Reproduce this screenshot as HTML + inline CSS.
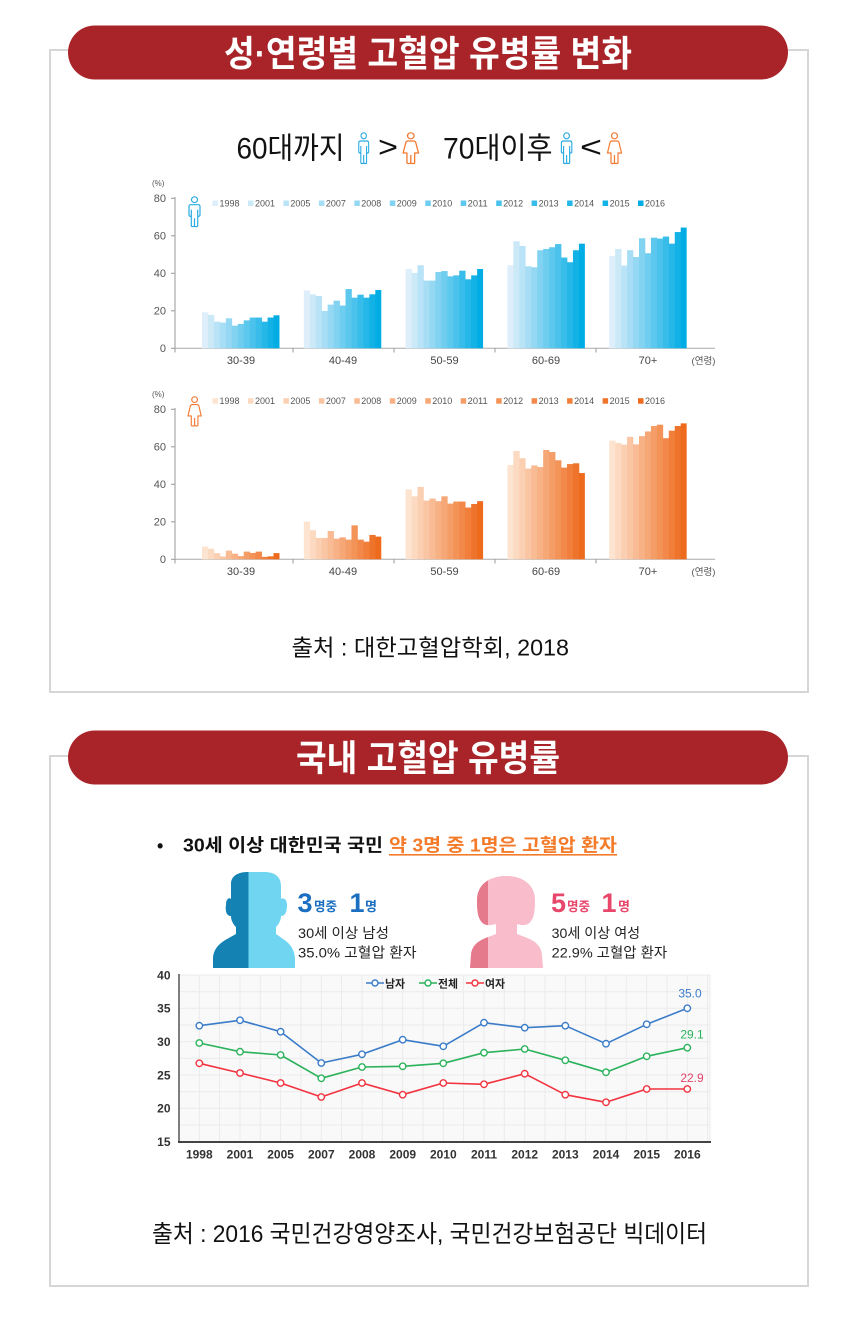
<!DOCTYPE html>
<html><head><meta charset="utf-8">
<style>
html,body{margin:0;padding:0;background:#fff;}
svg{display:block;font-family:"Liberation Sans","Noto Sans CJK KR",sans-serif;}
.m0{fill:#deeefa}.m1{fill:#cce9f8}.m2{fill:#b9e3f6}.m3{fill:#a7def5}.m4{fill:#94d8f3}.m5{fill:#82d3f1}.m6{fill:#6fcdef}.m7{fill:#5dc8ed}.m8{fill:#4ac2eb}.m9{fill:#38bdea}.m10{fill:#25b7e8}.m11{fill:#13b2e6}.m12{fill:#00ace4}
.f0{fill:#fde4d0}.f1{fill:#fcdac1}.f2{fill:#fbd0b2}.f3{fill:#f9c5a3}.f4{fill:#f8bb94}.f5{fill:#f7b185}.f6{fill:#f6a776}.f7{fill:#f49d67}.f8{fill:#f39358}.f9{fill:#f28849}.f10{fill:#f17e3a}.f11{fill:#ef742b}.f12{fill:#ee6a1c}
.tk{font-size:11px;fill:#555;}
.lg{font-size:9px;fill:#555;}
.cat{font-size:11px;fill:#444;}
.ly{font-size:12px;font-weight:700;fill:#333;}
</style></head>
<body>
<svg width="860" height="1340" viewBox="0 0 860 1340" xmlns="http://www.w3.org/2000/svg">
<defs>
  <g id="icM" fill="none" stroke-width="1.2" stroke-linejoin="round">
    <circle cx="8" cy="3.8" r="3"/>
    <path d="M4.5,9 H11.5 Q13.5,9 13.5,11 V19.5 Q13.5,21 12,21 H11.2 V30.5 Q11.2,31.5 10.2,31.5 H9 Q8,31.5 8,30.5 Q8,31.5 7,31.5 H5.8 Q4.8,31.5 4.8,30.5 V21 H4 Q2.5,21 2.5,19.5 V11 Q2.5,9 4.5,9 Z M4.8,14 V21 M11.2,14 V21 M8,23 V30.5"/>
  </g>
  <g id="icF" fill="none" stroke-width="1.2" stroke-linejoin="round">
    <circle cx="8" cy="3.8" r="3"/>
    <path d="M5.5,9 H10.5 Q12,9 12.5,10.5 L15,21 H11.5 V30.5 Q11.5,31.5 10.5,31.5 H9 Q8,31.5 8,30.5 Q8,31.5 7,31.5 H5.5 Q4.5,31.5 4.5,30.5 V21 H1 L3.5,10.5 Q4,9 5.5,9 Z M8,23 V30.5"/>
  </g>
  <clipPath id="cpM"><rect x="200" y="860" width="48.5" height="120"/></clipPath>
  <clipPath id="cpF"><rect x="460" y="860" width="28" height="120"/></clipPath>
</defs>

<!-- ===== Section 1 ===== -->
<rect x="50" y="50" width="758" height="642" fill="#fff" stroke="#d6d6d6" stroke-width="2"/>
<rect x="68" y="25.5" width="720" height="54" rx="27" fill="#a92428"/>
<text x="428" y="66" text-anchor="middle" font-size="36" font-weight="700" fill="#fff" textLength="408" lengthAdjust="spacingAndGlyphs">성·연령별 고혈압 유병률 변화</text>

<!-- subtitle -->
<text x="236.5" y="158.5" font-size="30" fill="#111" textLength="108" lengthAdjust="spacingAndGlyphs">60대까지</text>
<use href="#icM" transform="translate(356.5,132) scale(0.9,1)" stroke="#29abe2"/>
<text x="378" y="157" font-size="30" fill="#111" textLength="20" lengthAdjust="spacingAndGlyphs">&gt;</text>
<use href="#icF" transform="translate(402,132) scale(1.1,1)" stroke="#f47a30"/>
<text x="443" y="158.5" font-size="30" fill="#111" textLength="109.5" lengthAdjust="spacingAndGlyphs">70대이후</text>
<use href="#icM" transform="translate(559,132) scale(0.95,1)" stroke="#29abe2"/>
<text x="580" y="157" font-size="30" fill="#111" textLength="22" lengthAdjust="spacingAndGlyphs">&lt;</text>
<use href="#icF" transform="translate(606.5,132) scale(1,1)" stroke="#f47a30"/>

<!-- ===== Male bar chart ===== -->
<text x="152" y="186" font-size="8" fill="#555">(%)</text>
<line x1="175" y1="197" x2="175" y2="348.3" stroke="#999" stroke-width="1"/>
<line x1="175" y1="348.3" x2="715" y2="348.3" stroke="#aaa" stroke-width="1"/>
<g stroke="#999" stroke-width="1">
<line x1="171" y1="198.3" x2="175" y2="198.3"/><line x1="171" y1="235.8" x2="175" y2="235.8"/><line x1="171" y1="273.3" x2="175" y2="273.3"/><line x1="171" y1="310.8" x2="175" y2="310.8"/><line x1="171" y1="348.3" x2="175" y2="348.3"/>
<line x1="175" y1="348.3" x2="175" y2="352.5"/><line x1="293" y1="348.3" x2="293" y2="352.5"/><line x1="394" y1="348.3" x2="394" y2="352.5"/><line x1="495" y1="348.3" x2="495" y2="352.5"/><line x1="596" y1="348.3" x2="596" y2="352.5"/>
</g>
<g text-anchor="end">
<text class="tk" x="166" y="202.2">80</text><text class="tk" x="166" y="239.7">60</text><text class="tk" x="166" y="277.2">40</text><text class="tk" x="166" y="314.7">20</text><text class="tk" x="166" y="352.2">0</text>
</g>
<g text-anchor="middle">
<text class="cat" x="241" y="364">30-39</text><text class="cat" x="343" y="364">40-49</text><text class="cat" x="444.5" y="364">50-59</text><text class="cat" x="546" y="364">60-69</text><text class="cat" x="648" y="364">70+</text>
</g>
<text x="691.5" y="364" font-size="9.5" fill="#555" textLength="24" lengthAdjust="spacingAndGlyphs">(연령)</text>
<use href="#icM" transform="translate(186.5,196) scale(1,0.97)" stroke="#29abe2"/>

<!-- male legend -->
<g>
<rect class="m0" x="212.5" y="200.5" width="5.5" height="5.5"/><text class="lg" x="219.5" y="206.5" textLength="20" lengthAdjust="spacingAndGlyphs">1998</text>
<rect class="m1" x="248" y="200.5" width="5.5" height="5.5"/><text class="lg" x="255" y="206.5" textLength="20" lengthAdjust="spacingAndGlyphs">2001</text>
<rect class="m2" x="283.4" y="200.5" width="5.5" height="5.5"/><text class="lg" x="290.4" y="206.5" textLength="20" lengthAdjust="spacingAndGlyphs">2005</text>
<rect class="m3" x="318.9" y="200.5" width="5.5" height="5.5"/><text class="lg" x="325.9" y="206.5" textLength="20" lengthAdjust="spacingAndGlyphs">2007</text>
<rect class="m4" x="354.3" y="200.5" width="5.5" height="5.5"/><text class="lg" x="361.3" y="206.5" textLength="20" lengthAdjust="spacingAndGlyphs">2008</text>
<rect class="m5" x="389.8" y="200.5" width="5.5" height="5.5"/><text class="lg" x="396.8" y="206.5" textLength="20" lengthAdjust="spacingAndGlyphs">2009</text>
<rect class="m6" x="425.3" y="200.5" width="5.5" height="5.5"/><text class="lg" x="432.3" y="206.5" textLength="20" lengthAdjust="spacingAndGlyphs">2010</text>
<rect class="m7" x="460.7" y="200.5" width="5.5" height="5.5"/><text class="lg" x="467.7" y="206.5" textLength="20" lengthAdjust="spacingAndGlyphs">2011</text>
<rect class="m8" x="496.2" y="200.5" width="5.5" height="5.5"/><text class="lg" x="503.2" y="206.5" textLength="20" lengthAdjust="spacingAndGlyphs">2012</text>
<rect class="m9" x="531.6" y="200.5" width="5.5" height="5.5"/><text class="lg" x="538.6" y="206.5" textLength="20" lengthAdjust="spacingAndGlyphs">2013</text>
<rect class="m10" x="567.1" y="200.5" width="5.5" height="5.5"/><text class="lg" x="574.1" y="206.5" textLength="20" lengthAdjust="spacingAndGlyphs">2014</text>
<rect class="m11" x="602.6" y="200.5" width="5.5" height="5.5"/><text class="lg" x="609.6" y="206.5" textLength="20" lengthAdjust="spacingAndGlyphs">2015</text>
<rect class="m12" x="638" y="200.5" width="5.5" height="5.5"/><text class="lg" x="645" y="206.5" textLength="20" lengthAdjust="spacingAndGlyphs">2016</text>
</g>

<!-- male bars -->
<g transform="translate(202,348.3) scale(1,-1.875)">
<rect class="m0" x="0" width="6.3" height="19.2"/><rect class="m1" x="5.96" width="6.3" height="17.8"/><rect class="m2" x="11.92" width="6.3" height="14.2"/><rect class="m3" x="17.88" width="6.3" height="13.7"/><rect class="m4" x="23.84" width="6.3" height="16"/><rect class="m5" x="29.8" width="6.3" height="12.1"/><rect class="m6" x="35.76" width="6.3" height="13"/><rect class="m7" x="41.72" width="6.3" height="14.9"/><rect class="m8" x="47.68" width="6.3" height="16.4"/><rect class="m9" x="53.64" width="6.3" height="16.4"/><rect class="m10" x="59.6" width="6.3" height="14.2"/><rect class="m11" x="65.56" width="6.3" height="16.4"/><rect class="m12" x="71.52" width="5.96" height="17.6"/>
</g>
<g transform="translate(303.8,348.3) scale(1,-1.875)">
<rect class="m0" x="0" width="6.3" height="30.8"/><rect class="m1" x="5.96" width="6.3" height="28.8"/><rect class="m2" x="11.92" width="6.3" height="27.9"/><rect class="m3" x="17.88" width="6.3" height="19.9"/><rect class="m4" x="23.84" width="6.3" height="23.3"/><rect class="m5" x="29.8" width="6.3" height="25.4"/><rect class="m6" x="35.76" width="6.3" height="22.8"/><rect class="m7" x="41.72" width="6.3" height="31.6"/><rect class="m8" x="47.68" width="6.3" height="27"/><rect class="m9" x="53.64" width="6.3" height="28.6"/><rect class="m10" x="59.6" width="6.3" height="27"/><rect class="m11" x="65.56" width="6.3" height="28.8"/><rect class="m12" x="71.52" width="5.96" height="31.1"/>
</g>
<g transform="translate(405.6,348.3) scale(1,-1.875)">
<rect class="m0" x="0" width="6.3" height="42.3"/><rect class="m1" x="5.96" width="6.3" height="40.2"/><rect class="m2" x="11.92" width="6.3" height="44.3"/><rect class="m3" x="17.88" width="6.3" height="36.1"/><rect class="m4" x="23.84" width="6.3" height="36.1"/><rect class="m5" x="29.8" width="6.3" height="40.7"/><rect class="m6" x="35.76" width="6.3" height="41.2"/><rect class="m7" x="41.72" width="6.3" height="38.4"/><rect class="m8" x="47.68" width="6.3" height="38.9"/><rect class="m9" x="53.64" width="6.3" height="41.4"/><rect class="m10" x="59.6" width="6.3" height="36.8"/><rect class="m11" x="65.56" width="6.3" height="38.9"/><rect class="m12" x="71.52" width="5.96" height="42.3"/>
</g>
<g transform="translate(507.4,348.3) scale(1,-1.875)">
<rect class="m0" x="0" width="6.3" height="44.3"/><rect class="m1" x="5.96" width="6.3" height="57.1"/><rect class="m2" x="11.92" width="6.3" height="54.6"/><rect class="m3" x="17.88" width="6.3" height="43.7"/><rect class="m4" x="23.84" width="6.3" height="43.2"/><rect class="m5" x="29.8" width="6.3" height="52.3"/><rect class="m6" x="35.76" width="6.3" height="53"/><rect class="m7" x="41.72" width="6.3" height="53.9"/><rect class="m8" x="47.68" width="6.3" height="55.6"/><rect class="m9" x="53.64" width="6.3" height="48.4"/><rect class="m10" x="59.6" width="6.3" height="45.9"/><rect class="m11" x="65.56" width="6.3" height="52.3"/><rect class="m12" x="71.52" width="5.96" height="55.8"/>
</g>
<g transform="translate(609.2,348.3) scale(1,-1.875)">
<rect class="m0" x="0" width="6.3" height="49.2"/><rect class="m1" x="5.96" width="6.3" height="53"/><rect class="m2" x="11.92" width="6.3" height="44.1"/><rect class="m3" x="17.88" width="6.3" height="52.3"/><rect class="m4" x="23.84" width="6.3" height="48.7"/><rect class="m5" x="29.8" width="6.3" height="58.7"/><rect class="m6" x="35.76" width="6.3" height="50.7"/><rect class="m7" x="41.72" width="6.3" height="59"/><rect class="m8" x="47.68" width="6.3" height="58.5"/><rect class="m9" x="53.64" width="6.3" height="59.6"/><rect class="m10" x="59.6" width="6.3" height="55.8"/><rect class="m11" x="65.56" width="6.3" height="62"/><rect class="m12" x="71.52" width="5.96" height="64.4"/>
</g>

<!-- ===== Female bar chart ===== -->
<text x="152" y="397" font-size="8" fill="#555">(%)</text>
<line x1="175" y1="408" x2="175" y2="559.3" stroke="#999" stroke-width="1"/>
<line x1="175" y1="559.3" x2="715" y2="559.3" stroke="#aaa" stroke-width="1"/>
<g stroke="#999" stroke-width="1">
<line x1="171" y1="409.3" x2="175" y2="409.3"/><line x1="171" y1="446.8" x2="175" y2="446.8"/><line x1="171" y1="484.3" x2="175" y2="484.3"/><line x1="171" y1="521.8" x2="175" y2="521.8"/><line x1="171" y1="559.3" x2="175" y2="559.3"/>
<line x1="175" y1="559.3" x2="175" y2="563.5"/><line x1="293" y1="559.3" x2="293" y2="563.5"/><line x1="394" y1="559.3" x2="394" y2="563.5"/><line x1="495" y1="559.3" x2="495" y2="563.5"/><line x1="596" y1="559.3" x2="596" y2="563.5"/>
</g>
<g text-anchor="end">
<text class="tk" x="166" y="413.2">80</text><text class="tk" x="166" y="450.7">60</text><text class="tk" x="166" y="488.2">40</text><text class="tk" x="166" y="525.7">20</text><text class="tk" x="166" y="563.2">0</text>
</g>
<g text-anchor="middle">
<text class="cat" x="241" y="575">30-39</text><text class="cat" x="343" y="575">40-49</text><text class="cat" x="444.5" y="575">50-59</text><text class="cat" x="546" y="575">60-69</text><text class="cat" x="648" y="575">70+</text>
</g>
<text x="691.5" y="575" font-size="9.5" fill="#555" textLength="24" lengthAdjust="spacingAndGlyphs">(연령)</text>
<use href="#icF" transform="translate(187,396) scale(0.95,0.95)" stroke="#f47a30"/>

<!-- female legend -->
<g>
<rect class="f0" x="212.5" y="398.2" width="5.5" height="5.5"/><text class="lg" x="219.5" y="404.2" textLength="20" lengthAdjust="spacingAndGlyphs">1998</text>
<rect class="f1" x="248" y="398.2" width="5.5" height="5.5"/><text class="lg" x="255" y="404.2" textLength="20" lengthAdjust="spacingAndGlyphs">2001</text>
<rect class="f2" x="283.4" y="398.2" width="5.5" height="5.5"/><text class="lg" x="290.4" y="404.2" textLength="20" lengthAdjust="spacingAndGlyphs">2005</text>
<rect class="f3" x="318.9" y="398.2" width="5.5" height="5.5"/><text class="lg" x="325.9" y="404.2" textLength="20" lengthAdjust="spacingAndGlyphs">2007</text>
<rect class="f4" x="354.3" y="398.2" width="5.5" height="5.5"/><text class="lg" x="361.3" y="404.2" textLength="20" lengthAdjust="spacingAndGlyphs">2008</text>
<rect class="f5" x="389.8" y="398.2" width="5.5" height="5.5"/><text class="lg" x="396.8" y="404.2" textLength="20" lengthAdjust="spacingAndGlyphs">2009</text>
<rect class="f6" x="425.3" y="398.2" width="5.5" height="5.5"/><text class="lg" x="432.3" y="404.2" textLength="20" lengthAdjust="spacingAndGlyphs">2010</text>
<rect class="f7" x="460.7" y="398.2" width="5.5" height="5.5"/><text class="lg" x="467.7" y="404.2" textLength="20" lengthAdjust="spacingAndGlyphs">2011</text>
<rect class="f8" x="496.2" y="398.2" width="5.5" height="5.5"/><text class="lg" x="503.2" y="404.2" textLength="20" lengthAdjust="spacingAndGlyphs">2012</text>
<rect class="f9" x="531.6" y="398.2" width="5.5" height="5.5"/><text class="lg" x="538.6" y="404.2" textLength="20" lengthAdjust="spacingAndGlyphs">2013</text>
<rect class="f10" x="567.1" y="398.2" width="5.5" height="5.5"/><text class="lg" x="574.1" y="404.2" textLength="20" lengthAdjust="spacingAndGlyphs">2014</text>
<rect class="f11" x="602.6" y="398.2" width="5.5" height="5.5"/><text class="lg" x="609.6" y="404.2" textLength="20" lengthAdjust="spacingAndGlyphs">2015</text>
<rect class="f12" x="638" y="398.2" width="5.5" height="5.5"/><text class="lg" x="645" y="404.2" textLength="20" lengthAdjust="spacingAndGlyphs">2016</text>
</g>

<!-- female bars -->
<g transform="translate(202,559.3) scale(1,-1.875)">
<rect class="f0" x="0" width="6.3" height="6.8"/><rect class="f1" x="5.96" width="6.3" height="5.6"/><rect class="f2" x="11.92" width="6.3" height="3.3"/><rect class="f3" x="17.88" width="6.3" height="1.5"/><rect class="f4" x="23.84" width="6.3" height="4.6"/><rect class="f5" x="29.8" width="6.3" height="3"/><rect class="f6" x="35.76" width="6.3" height="1.7"/><rect class="f7" x="41.72" width="6.3" height="4.1"/><rect class="f8" x="47.68" width="6.3" height="3.4"/><rect class="f9" x="53.64" width="6.3" height="4.1"/><rect class="f10" x="59.6" width="6.3" height="1.3"/><rect class="f11" x="65.56" width="6.3" height="1.6"/><rect class="f12" x="71.52" width="5.96" height="3.3"/>
</g>
<g transform="translate(303.8,559.3) scale(1,-1.875)">
<rect class="f0" x="0" width="6.3" height="20.1"/><rect class="f1" x="5.96" width="6.3" height="15.5"/><rect class="f2" x="11.92" width="6.3" height="11.4"/><rect class="f3" x="17.88" width="6.3" height="11.4"/><rect class="f4" x="23.84" width="6.3" height="15.1"/><rect class="f5" x="29.8" width="6.3" height="11"/><rect class="f6" x="35.76" width="6.3" height="11.7"/><rect class="f7" x="41.72" width="6.3" height="10.5"/><rect class="f8" x="47.68" width="6.3" height="18.1"/><rect class="f9" x="53.64" width="6.3" height="10.5"/><rect class="f10" x="59.6" width="6.3" height="9.4"/><rect class="f11" x="65.56" width="6.3" height="13"/><rect class="f12" x="71.52" width="5.96" height="12.1"/>
</g>
<g transform="translate(405.6,559.3) scale(1,-1.875)">
<rect class="f0" x="0" width="6.3" height="37.3"/><rect class="f1" x="5.96" width="6.3" height="33.6"/><rect class="f2" x="11.92" width="6.3" height="38.6"/><rect class="f3" x="17.88" width="6.3" height="31.3"/><rect class="f4" x="23.84" width="6.3" height="32.4"/><rect class="f5" x="29.8" width="6.3" height="31"/><rect class="f6" x="35.76" width="6.3" height="33.6"/><rect class="f7" x="41.72" width="6.3" height="29.7"/><rect class="f8" x="47.68" width="6.3" height="30.8"/><rect class="f9" x="53.64" width="6.3" height="30.8"/><rect class="f10" x="59.6" width="6.3" height="27.6"/><rect class="f11" x="65.56" width="6.3" height="29.5"/><rect class="f12" x="71.52" width="5.96" height="31"/>
</g>
<g transform="translate(507.4,559.3) scale(1,-1.875)">
<rect class="f0" x="0" width="6.3" height="50.3"/><rect class="f1" x="5.96" width="6.3" height="57.8"/><rect class="f2" x="11.92" width="6.3" height="53.9"/><rect class="f3" x="17.88" width="6.3" height="48.4"/><rect class="f4" x="23.84" width="6.3" height="50.1"/><rect class="f5" x="29.8" width="6.3" height="49.2"/><rect class="f6" x="35.76" width="6.3" height="58.3"/><rect class="f7" x="41.72" width="6.3" height="57.2"/><rect class="f8" x="47.68" width="6.3" height="52.8"/><rect class="f9" x="53.64" width="6.3" height="48.9"/><rect class="f10" x="59.6" width="6.3" height="50.8"/><rect class="f11" x="65.56" width="6.3" height="51.2"/><rect class="f12" x="71.52" width="5.96" height="46"/>
</g>
<g transform="translate(609.2,559.3) scale(1,-1.875)">
<rect class="f0" x="0" width="6.3" height="63.3"/><rect class="f1" x="5.96" width="6.3" height="62.1"/><rect class="f2" x="11.92" width="6.3" height="61.2"/><rect class="f3" x="17.88" width="6.3" height="65.3"/><rect class="f4" x="23.84" width="6.3" height="61.3"/><rect class="f5" x="29.8" width="6.3" height="65.7"/><rect class="f6" x="35.76" width="6.3" height="68.2"/><rect class="f7" x="41.72" width="6.3" height="71.1"/><rect class="f8" x="47.68" width="6.3" height="71.8"/><rect class="f9" x="53.64" width="6.3" height="64.6"/><rect class="f10" x="59.6" width="6.3" height="68.6"/><rect class="f11" x="65.56" width="6.3" height="71.1"/><rect class="f12" x="71.52" width="5.96" height="72.5"/>
</g>

<text x="291.5" y="655.5" font-size="23" fill="#111" textLength="277.5" lengthAdjust="spacingAndGlyphs">출처 :  대한고혈압학회, 2018</text>

<!-- ===== Section 2 ===== -->
<rect x="50" y="756" width="758" height="530" fill="#fff" stroke="#d6d6d6" stroke-width="2"/>
<rect x="68" y="730.5" width="720" height="54" rx="27" fill="#a92428"/>
<text x="428" y="770.5" text-anchor="middle" font-size="36" font-weight="700" fill="#fff" textLength="264" lengthAdjust="spacingAndGlyphs">국내 고혈압 유병률</text>

<text x="157" y="852" font-size="18" font-weight="700" fill="#111">•</text>
<text x="183" y="851.5" font-size="18" font-weight="700" fill="#111" textLength="200" lengthAdjust="spacingAndGlyphs">30세 이상 대한민국 국민</text>
<text x="389" y="851.5" font-size="18" font-weight="700" fill="#f37b2a" textLength="228" lengthAdjust="spacingAndGlyphs">약 3명 중 1명은 고혈압 환자</text>
<rect x="389" y="854" width="228" height="1.6" fill="#f37b2a"/>

<!-- male silhouette -->
<path id="maleS" d="M236,927 C233,924 231,920 231,916 C227,916 225,912 226,905 C226,899 229,897 231,899 L231,884 C231,876 238,872 248,872 L264,872 C275,872 281,877 281,886 L281,899 C284,897 287,900 287,905 C287,912 285,916 281,916 C281,920 279,924 276,927 L276,934 C284,940 294,944 295,958 L295,968 L213,968 L213,958 C214,944 226,940 236,934 Z" fill="#6fd5f1"/>
<path clip-path="url(#cpM)" d="M236,927 C233,924 231,920 231,916 C227,916 225,912 226,905 C226,899 229,897 231,899 L231,884 C231,876 238,872 248,872 L264,872 C275,872 281,877 281,886 L281,899 C284,897 287,900 287,905 C287,912 285,916 281,916 C281,920 279,924 276,927 L276,934 C284,940 294,944 295,958 L295,968 L213,968 L213,958 C214,944 226,940 236,934 Z" fill="#1582b4"/>
<!-- female silhouette -->
<path d="M484,924 C478,920 477,912 477,900 C477,885 489,876 506,876 C523,876 535,885 535,900 C535,912 534,920 528,924 C524,926 520,925 517,924 L517,934 C527,938 541,941 542,955 L543,968 L470,968 L471,955 C472,941 486,938 496,934 L496,924 C492,925 488,926 484,924 Z" fill="#f8bccb"/>
<path clip-path="url(#cpF)" d="M484,924 C478,920 477,912 477,900 C477,885 489,876 506,876 C523,876 535,885 535,900 C535,912 534,920 528,924 C524,926 520,925 517,924 L517,934 C527,938 541,941 542,955 L543,968 L470,968 L471,955 C472,941 486,938 496,934 L496,924 C492,925 488,926 484,924 Z" fill="#e67a8d"/>

<!-- figure texts -->
<g font-weight="700" fill="#1b6fc0">
<text x="297.5" y="912" font-size="27">3</text>
<text x="314" y="911" font-size="13" textLength="23" lengthAdjust="spacingAndGlyphs">명중</text>
<text x="349.5" y="912" font-size="27">1</text>
<text x="365" y="911" font-size="13" textLength="12" lengthAdjust="spacingAndGlyphs">명</text>
</g>
<text x="298" y="938" font-size="14" fill="#222" textLength="91" lengthAdjust="spacingAndGlyphs">30세 이상 남성</text>
<text x="298" y="957.5" font-size="14" fill="#222" textLength="118.5" lengthAdjust="spacingAndGlyphs">35.0% 고혈압 환자</text>
<g font-weight="700" fill="#e8466b">
<text x="551" y="912" font-size="27">5</text>
<text x="567" y="911" font-size="13" textLength="23" lengthAdjust="spacingAndGlyphs">명중</text>
<text x="601.5" y="912" font-size="27">1</text>
<text x="618" y="911" font-size="13" textLength="12" lengthAdjust="spacingAndGlyphs">명</text>
</g>
<text x="551.7" y="938" font-size="14" fill="#222" textLength="88.5" lengthAdjust="spacingAndGlyphs">30세 이상 여성</text>
<text x="551.7" y="957.5" font-size="14" fill="#222" textLength="115.5" lengthAdjust="spacingAndGlyphs">22.9% 고혈압 환자</text>

<!-- ===== Line chart ===== -->
<rect x="179" y="975" width="531" height="167" fill="#f9f9f9"/>
<path stroke="#ebebeb" stroke-width="1" fill="none" d="M179,975H710 M179,991.7H710 M179,1008.3H710 M179,1025H710 M179,1041.7H710 M179,1058.3H710 M179,1075H710 M179,1091.7H710 M179,1108.3H710 M179,1125H710
M199.3,975V1142 M219.6,975V1142 M240,975V1142 M260.3,975V1142 M280.6,975V1142 M301,975V1142 M321.3,975V1142 M341.6,975V1142 M362,975V1142 M382.3,975V1142 M402.7,975V1142 M423,975V1142 M443.3,975V1142 M463.6,975V1142 M484,975V1142 M504.3,975V1142 M524.7,975V1142 M545,975V1142 M565.3,975V1142 M585.6,975V1142 M606,975V1142 M626.3,975V1142 M646.7,975V1142 M667,975V1142 M687.3,975V1142 M707.6,975V1142 M710,975V1142"/>
<line x1="179" y1="974" x2="179" y2="1142" stroke="#555" stroke-width="1.5"/>
<line x1="178" y1="1142" x2="711" y2="1142" stroke="#444" stroke-width="2"/>
<g text-anchor="end">
<text class="ly" x="170.5" y="979.3">40</text><text class="ly" x="170.5" y="1012.6">35</text><text class="ly" x="170.5" y="1046">30</text><text class="ly" x="170.5" y="1079.3">25</text><text class="ly" x="170.5" y="1112.6">20</text><text class="ly" x="170.5" y="1146">15</text>
</g>
<g text-anchor="middle">
<text class="ly" x="199.3" y="1158.5">1998</text><text class="ly" x="240" y="1158.5">2001</text><text class="ly" x="280.6" y="1158.5">2005</text><text class="ly" x="321.3" y="1158.5">2007</text><text class="ly" x="362" y="1158.5">2008</text><text class="ly" x="402.7" y="1158.5">2009</text><text class="ly" x="443.3" y="1158.5">2010</text><text class="ly" x="484" y="1158.5">2011</text><text class="ly" x="524.7" y="1158.5">2012</text><text class="ly" x="565.3" y="1158.5">2013</text><text class="ly" x="606" y="1158.5">2014</text><text class="ly" x="646.7" y="1158.5">2015</text><text class="ly" x="687.3" y="1158.5">2016</text>
</g>

<!-- series -->
<g fill="none" stroke-width="1.6" stroke-linejoin="round">
<polyline stroke="#3b7cc9" points="199.3,1025.7 240,1020.3 280.6,1031.7 321.3,1063 362,1054.3 402.7,1039.7 443.3,1046.3 484,1022.7 524.7,1027.7 565.3,1025.7 606,1043.7 646.7,1024.3 687.3,1008.3"/>
<polyline stroke="#2bb25b" points="199.3,1043 240,1051.7 280.6,1055 321.3,1078.3 362,1067 402.7,1066.3 443.3,1063.3 484,1052.7 524.7,1049 565.3,1060.3 606,1072.3 646.7,1056.3 687.3,1047.7"/>
<polyline stroke="#f2333f" points="199.3,1063.3 240,1073 280.6,1083 321.3,1097 362,1083 402.7,1094.7 443.3,1083 484,1084.3 524.7,1073.7 565.3,1094.7 606,1102.3 646.7,1089 687.3,1089"/>
</g>
<g fill="#fff" stroke-width="1.4">
<g stroke="#3b7cc9">
<circle cx="199.3" cy="1025.7" r="3.2"/><circle cx="240" cy="1020.3" r="3.2"/><circle cx="280.6" cy="1031.7" r="3.2"/><circle cx="321.3" cy="1063" r="3.2"/><circle cx="362" cy="1054.3" r="3.2"/><circle cx="402.7" cy="1039.7" r="3.2"/><circle cx="443.3" cy="1046.3" r="3.2"/><circle cx="484" cy="1022.7" r="3.2"/><circle cx="524.7" cy="1027.7" r="3.2"/><circle cx="565.3" cy="1025.7" r="3.2"/><circle cx="606" cy="1043.7" r="3.2"/><circle cx="646.7" cy="1024.3" r="3.2"/><circle cx="687.3" cy="1008.3" r="3.2"/>
</g>
<g stroke="#2bb25b">
<circle cx="199.3" cy="1043" r="3.2"/><circle cx="240" cy="1051.7" r="3.2"/><circle cx="280.6" cy="1055" r="3.2"/><circle cx="321.3" cy="1078.3" r="3.2"/><circle cx="362" cy="1067" r="3.2"/><circle cx="402.7" cy="1066.3" r="3.2"/><circle cx="443.3" cy="1063.3" r="3.2"/><circle cx="484" cy="1052.7" r="3.2"/><circle cx="524.7" cy="1049" r="3.2"/><circle cx="565.3" cy="1060.3" r="3.2"/><circle cx="606" cy="1072.3" r="3.2"/><circle cx="646.7" cy="1056.3" r="3.2"/><circle cx="687.3" cy="1047.7" r="3.2"/>
</g>
<g stroke="#f2333f">
<circle cx="199.3" cy="1063.3" r="3.2"/><circle cx="240" cy="1073" r="3.2"/><circle cx="280.6" cy="1083" r="3.2"/><circle cx="321.3" cy="1097" r="3.2"/><circle cx="362" cy="1083" r="3.2"/><circle cx="402.7" cy="1094.7" r="3.2"/><circle cx="443.3" cy="1083" r="3.2"/><circle cx="484" cy="1084.3" r="3.2"/><circle cx="524.7" cy="1073.7" r="3.2"/><circle cx="565.3" cy="1094.7" r="3.2"/><circle cx="606" cy="1102.3" r="3.2"/><circle cx="646.7" cy="1089" r="3.2"/><circle cx="687.3" cy="1089" r="3.2"/>
</g>
</g>

<!-- data labels -->
<text x="690" y="997.5" text-anchor="middle" font-size="12" fill="#3b7cc9">35.0</text>
<text x="692" y="1038.5" text-anchor="middle" font-size="12" fill="#2bb25b">29.1</text>
<text x="692" y="1082" text-anchor="middle" font-size="12" fill="#e0456a">22.9</text>

<!-- legend -->
<g stroke-width="1.4">
<line x1="366" y1="983" x2="384" y2="983" stroke="#3b7cc9"/><circle cx="375" cy="983" r="3" fill="#fff" stroke="#3b7cc9"/>
<line x1="419" y1="983" x2="437" y2="983" stroke="#2bb25b"/><circle cx="428" cy="983" r="3" fill="#fff" stroke="#2bb25b"/>
<line x1="466" y1="983" x2="484" y2="983" stroke="#f2333f"/><circle cx="475" cy="983" r="3" fill="#fff" stroke="#f2333f"/>
</g>
<g font-size="11" font-weight="700" fill="#222">
<text x="385" y="987.5" textLength="20" lengthAdjust="spacingAndGlyphs">남자</text>
<text x="438" y="987.5" textLength="20" lengthAdjust="spacingAndGlyphs">전체</text>
<text x="485" y="987.5" textLength="20" lengthAdjust="spacingAndGlyphs">여자</text>
</g>

<text x="152" y="1242" font-size="24" fill="#111" textLength="555" lengthAdjust="spacingAndGlyphs">출처 : 2016 국민건강영양조사, 국민건강보험공단 빅데이터</text>
</svg>
</body></html>
